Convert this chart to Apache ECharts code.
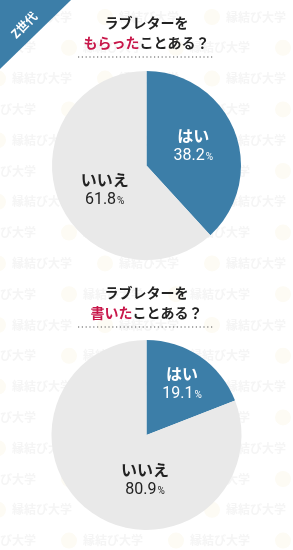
<!DOCTYPE html>
<html>
<head>
<meta charset="utf-8">
<script src="https://cdn.jsdelivr.net/npm/echarts@6/dist/echarts.min.js"></script>
<style>
  html, body { margin: 0; padding: 0; background: #fff; }
  #chart { width: 293px; height: 550px; }
</style>
</head>
<body>
<div id="chart"></div>
<script>
// data
const categories = ["はい", "いいえ"];
const receivedValues = [38.2, 61.8];
const wroteValues = [19.1, 80.9];
const receivedTitle = ["ラブレターを", "もらった", "ことある？"];
const wroteTitle = ["ラブレターを", "書いた", "ことある？"];
const badgeText = "Z世代";

const BLUE = "#3c7ea8";
const GREY = "#e9e9e9";
const RED = "#c8174a";
const FONT = 'Roboto, "Noto Sans CJK JP", sans-serif';
const JP = '"Noto Sans CJK JP"';

const chart = echarts.init(document.getElementById("chart"));

function titleText(parts, y) {
    return {
        type: "text",
        x: 146.5,
        y: y,
        style: {
            text: "{b|" + parts[0] + "}\n{r|" + parts[1] + "}{b|" + parts[2] + "}",
            align: "center",
            verticalAlign: "top",
            rich: {
                b: { fontSize: 14, fontWeight: "bold", fill: "#222", lineHeight: 20, fontFamily: JP },
                r: { fontSize: 14, fontWeight: "bold", fill: RED, lineHeight: 20, fontFamily: JP }
            }
        }
    };
}

// label offsets per slice (fine tuning of label placement)
function pieData(values, offsets) {
    return categories.map(function (name, i) {
        const c = i === 0 ? "#fff" : "#222";
        return {
            name: name,
            value: values[i],
            itemStyle: { color: i === 0 ? BLUE : GREY },
            label: {
                offset: offsets[i],
                rich: {
                    n: { fontSize: 16, fontWeight: "bold", color: c, lineHeight: 20, fontFamily: JP },
                    v: { fontSize: 16, color: c, lineHeight: 20, fontFamily: FONT },
                    p: { fontSize: 10, color: c, lineHeight: 20, fontFamily: FONT, padding: [3, 0, 0, 1] }
                }
            }
        };
    });
}

function pieSeries(values, center, radius, offsets) {
    return {
        type: "pie",
        center: center,
        radius: radius,
        startAngle: 90,
        clockwise: true,
        silent: true,
        animation: false,
        labelLine: { show: false },
        label: {
            show: true,
            position: "inside",
            formatter: function (p) {
                return "{n|" + p.name + "}\n{v|" + p.value.toFixed(1) + "}{p|%}";
            }
        },
        itemStyle: { borderWidth: 0 },
        data: pieData(values, offsets)
    };
}

// faint watermark pattern in the background
const watermark = [];
for (let row = 0; row < 18; row++) {
    const y = 17 + row * 30.8;
    const start = row % 2 === 0 ? 12 : -24;
    for (let k = -1; k < 4; k++) {
        const x = start + k * 107;
        watermark.push({
            type: "circle",
            shape: { cx: x - 14, cy: y, r: 8 },
            style: { fill: "#fdfbf4" },
            silent: true
        });
        watermark.push({
            type: "text",
            x: x,
            y: y,
            style: {
                text: "縁結び大学",
                fontSize: 12,
                fontWeight: "bold",
                fontFamily: JP,
                fill: "#f5f5f5",
                verticalAlign: "middle"
            },
            silent: true
        });
    }
}

chart.setOption({
    backgroundColor: "#fff",
    graphic: [
        { type: "group", z: -10, children: watermark },
        titleText(receivedTitle, 13),
        titleText(wroteTitle, 283),
        {
            type: "line",
            shape: { x1: 78, y1: 57, x2: 213, y2: 57 },
            style: { stroke: "#555", lineWidth: 1.2, lineDash: [1.2, 2.6] }
        },
        {
            type: "line",
            shape: { x1: 78, y1: 327, x2: 213, y2: 327 },
            style: { stroke: "#555", lineWidth: 1.2, lineDash: [1.2, 2.6] }
        },
        {
            type: "polygon",
            shape: { points: [[0, 0], [71, 0], [0, 69]] },
            style: { fill: BLUE }
        },
        {
            type: "text",
            x: 24,
            y: 25,
            rotation: Math.PI / 4,
            style: {
                text: badgeText,
                fontSize: 12,
                fontWeight: "bold",
                fontFamily: JP,
                fill: "#fff",
                align: "center",
                verticalAlign: "middle"
            }
        }
    ],
    series: [
        pieSeries(receivedValues, [146.5, 165.5], 94.5, [[0, -1], [5, 6]]),
        pieSeries(wroteValues, [146.5, 435], 95, [[7, -9], [27, 3]])
    ]
});
</script>
</body>
</html>
